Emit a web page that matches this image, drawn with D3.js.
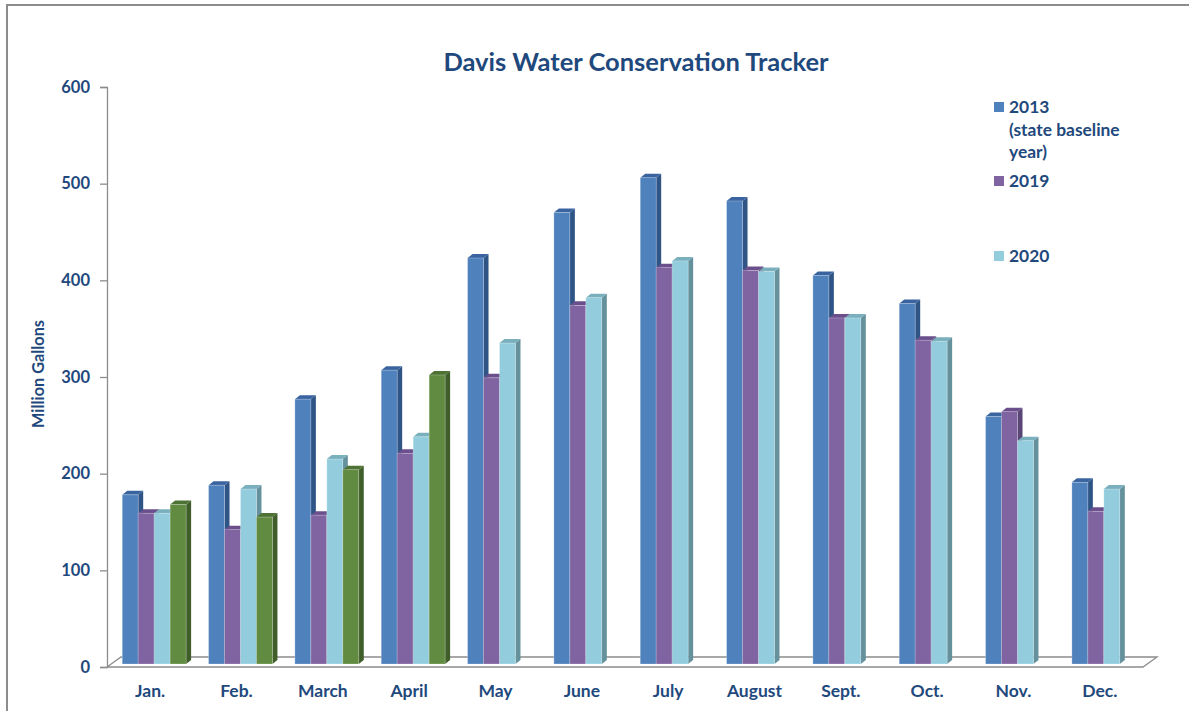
<!DOCTYPE html>
<html><head><meta charset="utf-8">
<script src="https://cdn.jsdelivr.net/npm/d3@7"></script>
<style>
html,body{margin:0;padding:0;background:#fff;}
svg{display:block;}
text{font-family:Lato,"Open Sans",sans-serif;font-weight:700;fill:#1F497D;}
</style></head>
<body>
<svg id="c" width="1189" height="711"></svg>
<script>
const months = ["Jan.","Feb.","March","April","May","June","July","August","Sept.","Oct.","Nov.","Dec."];
const seriesNames = ["2013","2019","2020","2021"];
const legendLabels = [["2013","(state baseline","year)"],["2019"],["2020"]];
const v2013 = [175,185,274,304,420,467,503,479,402,373,256,188];
const v2019 = [156,139,154,218,296,371,410,407,358,335,261,158];
const v2020 = [156,181,212,235,332,379,417,406,358,334,231,181];
const v2021 = [165,152,201,299,null,null,null,null,null,null,null,null];
const yTicks = [0,100,200,300,400,500,600];

const values = [v2013,v2019,v2020,v2021];
const front = ["#4F81BD","#8064A2","#93CDDD","#618B40"];
const side  = ["#2F5586","#5A4577","#64919C","#3F5E29"];
const topc  = ["#3A64A0","#6A4F8C","#7AAFBD","#4D7233"];

const svg = d3.select("#c");
// outer frame
svg.append("rect").attr("x",7).attr("y",5).attr("width",1250).attr("height",800)
  .attr("fill","none").attr("stroke","#8C8C8C").attr("stroke-width",2);

const x0 = d3.scaleBand().domain(months).range([107,1143]).paddingInner(0.26).paddingOuter(0.13);
const x1 = d3.scaleBand().domain(seriesNames).range([0,x0.bandwidth()]);
const y = d3.scaleLinear().domain([0,600]).range([667,87]);

const DX = 14, DY = 10;   // floor depth
const bdx = 5, bdy = 4;   // bar depth
const offX = 4, offY = 3; // bar front plane offset

// floor
const [fx0,fx1] = x0.range();
svg.append("path")
  .attr("d",`M${fx0},${y(0)}L${fx1},${y(0)}L${fx1+DX},${y(0)-DY}L${fx0+DX},${y(0)-DY}Z`)
  .attr("fill","#fff").attr("stroke","#8C8C8C").attr("stroke-width",1.3);

// y axis
const yAxis = d3.axisLeft(y).tickValues(yTicks).tickSize(7).tickPadding(10);
const ga = svg.append("g").attr("transform",`translate(${fx0},0)`).call(yAxis);
ga.select(".domain").attr("stroke","#8C8C8C").attr("stroke-width",1.3);
ga.selectAll(".tick line").attr("stroke","#8C8C8C").attr("stroke-width",1.3);
ga.selectAll(".tick text").style("font-size","16.5px").attr("fill","#1F497D")
  .style("font-family","Lato,sans-serif").style("font-weight","700");

// bars
const bars = svg.append("g");
months.forEach((m,i)=>{
  seriesNames.forEach((s,j)=>{
    const v = values[j][i];
    if (v == null) return;
    const xl = x0(m) + x1(s) + offX;
    const xr = xl + x1.bandwidth();
    const yt = y(v) - offY;
    const yb = y(0) - offY;
    const g = bars.append("g");
    g.append("path").attr("d",`M${xr},${yt}L${xr+bdx},${yt-bdy}L${xr+bdx},${yb-bdy}L${xr},${yb}Z`).attr("fill",side[j]);
    g.append("path").attr("d",`M${xl},${yt}L${xl+bdx},${yt-bdy}L${xr+bdx},${yt-bdy}L${xr},${yt}Z`).attr("fill",topc[j]);
    g.append("rect").attr("x",xl).attr("y",yt).attr("width",xr-xl).attr("height",yb-yt)
      .attr("fill",front[j]).attr("stroke","rgba(255,255,255,0.35)").attr("stroke-width",0.7);
  });
});

// x labels
svg.append("g").selectAll("text").data(months).join("text")
  .attr("x",d=>x0(d)+x0.bandwidth()/2).attr("y",697)
  .attr("text-anchor","middle").style("font-size","17.5px").text(d=>d);

// y title
svg.append("text").attr("transform","translate(44,374) rotate(-90)")
  .attr("text-anchor","middle").style("font-size","16.3px").text("Million Gallons");

// title
svg.append("text").attr("x",636).attr("y",71).attr("text-anchor","middle")
  .style("font-size","25.5px").text("Davis Water Conservation Tracker");

// legend
const legY = [107,181,256];
legendLabels.forEach((lines,k)=>{
  svg.append("rect").attr("x",994).attr("y",legY[k]-5).attr("width",10).attr("height",10).attr("fill",front[k]);
  const t = svg.append("text").attr("x",1009).attr("y",legY[k]+6).style("font-size","17.4px");
  lines.forEach((ln,li)=>{
    t.append("tspan").attr("x",1009).attr("dy",li===0?0:22.5).text(ln);
  });
});
</script>
</body></html>
